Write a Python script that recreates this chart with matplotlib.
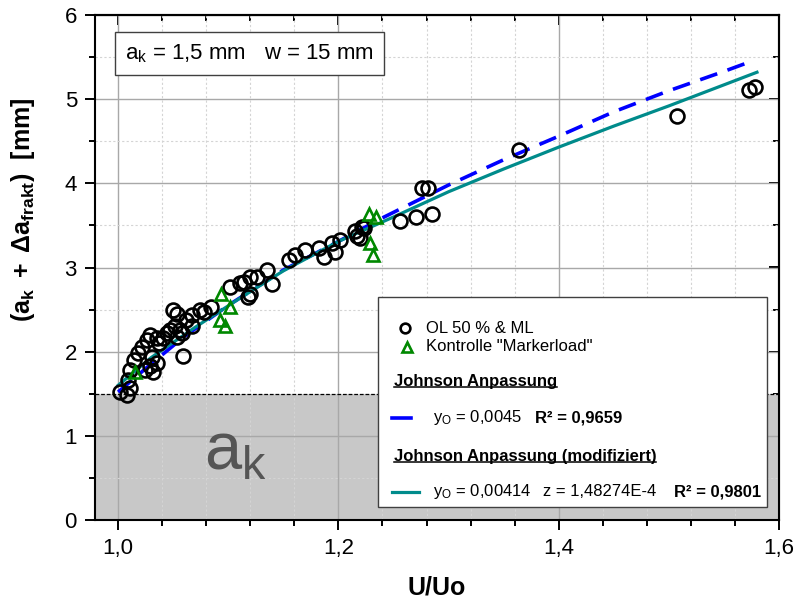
import matplotlib
matplotlib.use("Agg")
import matplotlib.pyplot as plt
from matplotlib.ticker import MultipleLocator, FixedLocator, FixedFormatter
from matplotlib.lines import Line2D
from matplotlib.patches import Rectangle

plt.rcParams['font.family'] = ['Liberation Sans', 'DejaVu Sans']
plt.rcParams['mathtext.fontset'] = 'custom'
plt.rcParams['mathtext.rm'] = 'Liberation Sans'
plt.rcParams['mathtext.it'] = 'Liberation Sans:italic'
plt.rcParams['mathtext.bf'] = 'Liberation Sans:bold'
plt.rcParams['mathtext.default'] = 'regular'

# ---------------- data ----------------
ol_x = [1.002, 1.008, 1.011, 1.009, 1.011, 1.014, 1.018, 1.022, 1.026, 1.029,
        1.0245, 1.029, 1.032, 1.035, 1.031, 1.035, 1.037, 1.041, 1.044, 1.047,
        1.050, 1.053, 1.052, 1.053, 1.058, 1.056, 1.059, 1.062, 1.067, 1.067,
        1.0745, 1.078, 1.084, 1.102, 1.111, 1.114, 1.120, 1.126, 1.120, 1.118,
        1.135, 1.1396, 1.1547, 1.161, 1.170, 1.182, 1.1865, 1.194, 1.197, 1.2016,
        1.215, 1.2168, 1.220, 1.221, 1.223, 1.256, 1.270, 1.285, 1.276, 1.281,
        1.364, 1.507, 1.5725, 1.5786]
ol_y = [1.52, 1.48, 1.57, 1.66, 1.78, 1.90, 1.98, 2.06, 2.14, 2.20,
        1.78, 1.83, 1.76, 1.86, 1.94, 2.16, 2.10, 2.16, 2.22, 2.26,
        2.49, 2.45, 2.30, 2.18, 2.22, 2.26, 1.95, 2.38, 2.30, 2.43,
        2.49, 2.47, 2.53, 2.77, 2.81, 2.83, 2.89, 2.89, 2.69, 2.65,
        2.97, 2.80, 3.09, 3.15, 3.21, 3.23, 3.13, 3.29, 3.19, 3.33,
        3.43, 3.38, 3.35, 3.48, 3.47, 3.55, 3.60, 3.64, 3.94, 3.94,
        4.40, 4.80, 5.11, 5.15]

ml_x = [1.015, 1.093, 1.1017, 1.0926, 1.097, 1.2274, 1.234, 1.229, 1.231]
ml_y = [1.76, 2.69, 2.53, 2.38, 2.30, 3.64, 3.60, 3.29, 3.15]

johnson_x = [1.0, 1.025, 1.06, 1.10, 1.15, 1.20, 1.24, 1.30, 1.35, 1.40, 1.45, 1.50, 1.55, 1.575]
johnson_y = [1.52, 1.80, 2.18, 2.55, 2.97, 3.31, 3.59, 3.98, 4.28, 4.56, 4.85, 5.10, 5.33, 5.45]

mod_x = [1.0, 1.03, 1.07, 1.11, 1.15, 1.20, 1.25, 1.30, 1.35, 1.40, 1.45, 1.50, 1.55, 1.58]
mod_y = [1.60, 1.93, 2.29, 2.63, 2.96, 3.31, 3.60, 3.90, 4.17, 4.43, 4.68, 4.92, 5.17, 5.32]

a_k = 1.5

x_ticks = [1.0, 1.2, 1.4, 1.6]
x_ticklabels = ['1,0', '1,2', '1,4', '1,6']
y_ticks = [0, 1, 2, 3, 4, 5, 6]
y_ticklabels = ['0', '1', '2', '3', '4', '5', '6']

# ---------------- figure ----------------
fig = plt.figure(figsize=(7.95, 6.03), dpi=100)
ax = fig.add_axes([95/795, 1-520/603, 684/795, 505/603])

ax.set_xlim(0.979, 1.6)
ax.set_ylim(0, 6)

ax.set_axisbelow(True)
ax.axhspan(0, a_k, color='#c8c8c8', zorder=0.2, lw=0)
ax.axhline(a_k, color='black', lw=0.9, ls=(0, (3, 1.5)), zorder=0.6)
ax.axhline(0, color='black', lw=1.2, ls=(0, (1, 1)), zorder=3)

ax.grid(which='major', color='#a8a8a8', lw=1.0, ls='-')
ax.grid(which='minor', color='#d4d4d4', lw=0.8, ls=(0, (2, 2)))

ax.text(1.078, 0.60, r'a$_\mathregular{k}$', fontsize=48, color='#555555',
        ha='left', va='baseline', zorder=1)

ax.plot(johnson_x, johnson_y, color='#0000ff', lw=2.6, ls=(0, (5, 3)), zorder=4)
ax.plot(mod_x, mod_y, color='#008b8b', lw=2.3, zorder=4.5)
ax.plot(ol_x, ol_y, ls='none', marker='o', ms=10, mfc='none', mec='black', mew=1.9, zorder=5)
ax.plot(ml_x, ml_y, ls='none', marker='^', ms=9, mfc='none', mec='#008800', mew=1.9, zorder=5)

# ticks
ax.xaxis.set_major_locator(FixedLocator(x_ticks))
ax.xaxis.set_major_formatter(FixedFormatter(x_ticklabels))
ax.xaxis.set_minor_locator(MultipleLocator(0.04))
ax.yaxis.set_major_locator(FixedLocator(y_ticks))
ax.yaxis.set_major_formatter(FixedFormatter(y_ticklabels))
ax.yaxis.set_minor_locator(MultipleLocator(0.5))
ax.tick_params(which='both', direction='out', top=False, right=False, width=1.4, labelsize=16)
ax.tick_params(which='major', length=7, pad=6)
ax.tick_params(which='minor', length=4)
for s in ax.spines.values():
    s.set_linewidth(1.5)

# top/right inward ticks
axt = ax.secondary_xaxis('top')
axt.xaxis.set_major_locator(FixedLocator(x_ticks))
axt.xaxis.set_minor_locator(MultipleLocator(0.04))
axt.tick_params(which='both', direction='in', labeltop=False, width=1.4)
axt.tick_params(which='major', length=7)
axt.tick_params(which='minor', length=4)
axt.spines['top'].set_linewidth(1.5)
axr = ax.secondary_yaxis('right')
axr.yaxis.set_major_locator(FixedLocator(y_ticks))
axr.yaxis.set_minor_locator(MultipleLocator(0.5))
axr.tick_params(which='both', direction='in', labelright=False, width=1.4)
axr.tick_params(which='major', length=7)
axr.tick_params(which='minor', length=4)
axr.spines['right'].set_linewidth(1.5)

ax.set_xlabel('U/Uo', fontsize=18, fontweight='bold', labelpad=12)
ax.set_ylabel(r'$\mathbf{(a_k\ +\ \Delta a_{frakt})}$  [mm]', fontsize=18, fontweight='bold')
ax.yaxis.set_label_coords(-0.085, 0.614)

# info box
ax.text(0.2259, 0.9238, r'a$_\mathregular{k}$ = 1,5 mm   w = 15 mm', transform=ax.transAxes,
        fontsize=16, ha='center', va='center', zorder=6,
        bbox=dict(boxstyle='square,pad=0.45', fc='white', ec='#404040', lw=1.0))

# legend box (manual)
T = ax.transAxes
ax.add_patch(Rectangle((0.4137, 0.0257), 0.9825-0.4137, 0.4416-0.0257, transform=T,
                       fc='white', ec='#404040', lw=1.0, zorder=6))
lfs = 12
ax.add_line(Line2D([0.4532], [0.380], transform=T, ls='none', marker='o', ms=7,
                   mfc='none', mec='black', mew=1.9, zorder=7))
ax.text(0.4839, 0.380, 'OL 50 % & ML', transform=T, fontsize=lfs, va='center', zorder=7)
ax.add_line(Line2D([0.4557], [0.343], transform=T, ls='none', marker='^', ms=7,
                   mfc='none', mec='#008800', mew=1.9, zorder=7))
ax.text(0.4839, 0.343, 'Kontrolle "Markerload"', transform=T, fontsize=lfs, va='center', zorder=7)

h1 = ax.text(0.4368, 0.2739, 'Johnson Anpassung', transform=T, fontsize=lfs,
             fontweight='bold', va='center', zorder=7)
ax.add_line(Line2D([0.4342, 0.462], [0.202, 0.202], transform=T, color='#0000ff', lw=2.6, zorder=7))
ax.text(0.4942, 0.202, r'y$_\mathregular{O}$ = 0,0045', transform=T, fontsize=lfs, va='center', zorder=7)
ax.text(0.644, 0.202, 'R² = 0,9659', transform=T, fontsize=lfs, fontweight='bold', va='center', zorder=7)

h2 = ax.text(0.4368, 0.1255, 'Johnson Anpassung (modifiziert)', transform=T, fontsize=lfs,
             fontweight='bold', va='center', zorder=7)
ax.add_line(Line2D([0.4342, 0.4737], [0.0562, 0.0562], transform=T, color='#008b8b', lw=2.3, zorder=7))
ax.text(0.4942, 0.0562, r'y$_\mathregular{O}$ = 0,00414', transform=T, fontsize=lfs, va='center', zorder=7)
ax.text(0.6557, 0.0562, 'z = 1,48274E-4', transform=T, fontsize=lfs, va='center', zorder=7)
ax.text(0.846, 0.0562, 'R² = 0,9801', transform=T, fontsize=lfs, fontweight='bold', va='center', zorder=7)

# underline headings
fig.canvas.draw()
r = fig.canvas.get_renderer()
inv = T.inverted()
for h, yu in ((h1, 0.2624), (h2, 0.1149)):
    bb = h.get_window_extent(r)
    (x0, _), (x1, _) = inv.transform([(bb.x0, bb.y0), (bb.x1, bb.y1)])
    ax.add_line(Line2D([x0, x1], [yu, yu], transform=T, color='black', lw=1.1, zorder=7))

fig.savefig('out.png', dpi=100)
